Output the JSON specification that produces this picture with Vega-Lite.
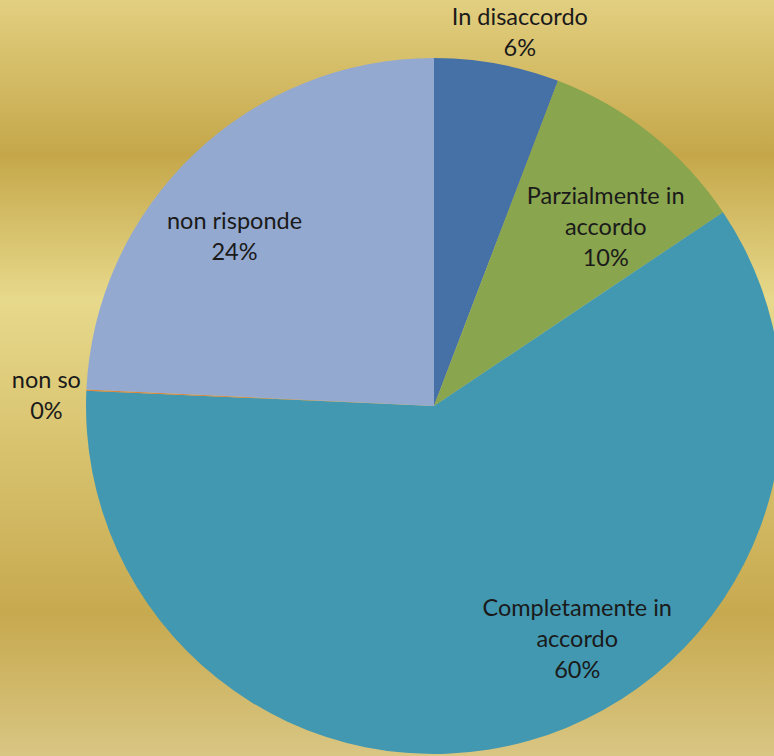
{
  "$schema": "https://vega.github.io/schema/vega-lite/v6.json",
  "width": 868,
  "height": 812,
  "padding": 0,
  "autosize": "none",
  "background": "#d9c47a",
  "config": {
    "view": {"stroke": null},
    "text": {"font": "Lato", "fontSize": 23.5, "color": "#1a1a1a", "lineBreak": "\n", "lineHeight": 31}
  },
  "datasets": {
    "slices": [
      {"cat": "In disaccordo", "value": 5.8, "ord": 1, "label": "In disaccordo\n6%"},
      {"cat": "Parzialmente in accordo", "value": 9.8, "ord": 2, "label": "Parzialmente in\naccordo\n10%"},
      {"cat": "Completamente in accordo", "value": 60.1, "ord": 3, "label": "Completamente in\naccordo\n60%"},
      {"cat": "non so", "value": 0.05, "ord": 4, "label": "non so\n0%"},
      {"cat": "non risponde", "value": 24.25, "ord": 5, "label": "non risponde\n24%"}
    ],
    "bg": [{"name": "background"}]
  },
  "data": {"name": "slices"},
  "layer": [
    {
      "data": {"name": "bg"},
      "mark": {
        "type": "rect",
        "color": {
          "gradient": "linear",
          "x1": 0, "y1": 0, "x2": 0, "y2": 1,
          "stops": [
            {"offset": 0, "color": "#e2cf80"},
            {"offset": 0.191, "color": "#c5a74a"},
            {"offset": 0.369, "color": "#e7d98b"},
            {"offset": 0.757, "color": "#c7a94f"},
            {"offset": 0.931, "color": "#d9c683"},
            {"offset": 1, "color": "#dccb88"}
          ]
        }
      },
      "encoding": {}
    },
    {
      "mark": {"type": "arc", "radius": 348},
      "encoding": {
        "theta": {"field": "value", "type": "quantitative", "stack": true},
        "order": {"field": "ord", "type": "quantitative"},
        "color": {
          "field": "cat",
          "type": "nominal",
          "legend": null,
          "scale": {
            "domain": ["In disaccordo", "Parzialmente in accordo", "Completamente in accordo", "non so", "non risponde"],
            "range": ["#4571a6", "#89a54e", "#4198b0", "#db843d", "#94a9d0"]
          }
        }
      }
    },
    {
      "mark": {"type": "text", "radius": 380, "dx": 17, "dy": -14},
      "encoding": {
        "theta": {"field": "value", "type": "quantitative", "stack": true},
        "order": {"field": "ord", "type": "quantitative"},
        "text": {"condition": {"test": "datum.cat === 'In disaccordo'", "field": "label"}, "value": ""}
      }
    },
    {
      "mark": {"type": "text", "radius": 250, "dx": 16, "dy": -13},
      "encoding": {
        "theta": {"field": "value", "type": "quantitative", "stack": true},
        "order": {"field": "ord", "type": "quantitative"},
        "text": {"condition": {"test": "datum.cat === 'Parzialmente in accordo'", "field": "label"}, "value": ""}
      }
    },
    {
      "mark": {"type": "text", "radius": 260, "dx": 73, "dy": -47},
      "encoding": {
        "theta": {"field": "value", "type": "quantitative", "stack": true},
        "order": {"field": "ord", "type": "quantitative"},
        "text": {"condition": {"test": "datum.cat === 'Completamente in accordo'", "field": "label"}, "value": ""}
      }
    },
    {
      "mark": {"type": "text", "radius": 390, "dx": 2, "dy": -7},
      "encoding": {
        "theta": {"field": "value", "type": "quantitative", "stack": true},
        "order": {"field": "ord", "type": "quantitative"},
        "text": {"condition": {"test": "datum.cat === 'non so'", "field": "label"}, "value": ""}
      }
    },
    {
      "mark": {"type": "text", "radius": 260, "dx": -20, "dy": 4},
      "encoding": {
        "theta": {"field": "value", "type": "quantitative", "stack": true},
        "order": {"field": "ord", "type": "quantitative"},
        "text": {"condition": {"test": "datum.cat === 'non risponde'", "field": "label"}, "value": ""}
      }
    }
  ]
}
